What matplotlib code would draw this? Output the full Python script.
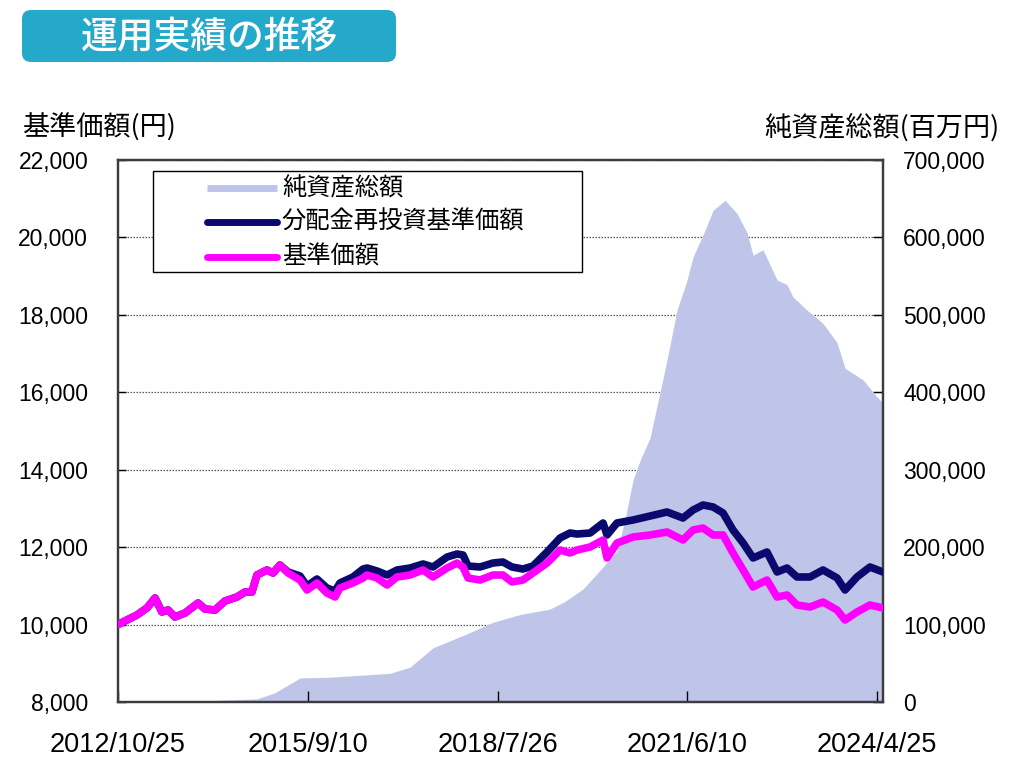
import matplotlib
matplotlib.use("Agg")
import matplotlib.pyplot as plt
import matplotlib.patches as mpatches
import matplotlib.transforms as mtrans
from matplotlib.lines import Line2D
import pandas as pd

plt.rcParams['font.family'] = ['Liberation Sans', 'Noto Sans CJK JP', 'DejaVu Sans']
JP = ['Noto Sans CJK JP', 'DejaVu Sans']

# 基準価額 / 分配金再投資基準価額 (円)
line_dates = ["2012-10-25", "2012-12-02", "2013-02-07", "2013-04-03", "2013-05-18",
              "2013-06-25", "2013-07-29", "2013-09-05", "2013-10-31", "2014-01-11",
              "2014-02-18", "2014-04-15", "2014-06-09", "2014-08-14", "2014-09-28",
              "2014-11-05", "2014-12-03", "2015-01-27", "2015-03-02", "2015-04-09",
              "2015-05-24", "2015-07-29", "2015-09-06", "2015-10-31", "2015-12-25",
              "2016-02-08", "2016-03-06", "2016-05-17", "2016-07-12", "2016-08-03",
              "2016-09-27", "2016-11-22", "2017-01-16", "2017-03-29", "2017-06-09",
              "2017-08-03", "2017-10-20", "2017-12-14", "2018-01-16", "2018-02-13",
              "2018-04-20", "2018-07-01", "2018-08-25", "2018-10-14", "2018-12-14",
              "2019-02-07", "2019-04-26", "2019-07-07", "2019-08-31", "2019-10-09",
              "2019-12-20", "2020-03-01", "2020-03-23", "2020-05-17", "2020-08-14",
              "2020-11-16", "2021-02-18", "2021-05-17", "2021-07-12", "2021-09-05",
              "2021-10-31", "2021-12-25", "2022-02-18", "2022-04-15", "2022-06-09",
              "2022-08-25", "2022-10-20", "2022-12-14", "2023-02-07", "2023-04-20",
              "2023-07-01", "2023-09-17", "2023-10-31", "2024-01-05", "2024-03-17",
              "2024-05-28"]
base_price = [10000, 10092, 10247, 10428, 10686, 10325, 10376, 10196, 10299, 10557,
              10402, 10376, 10609, 10712, 10841, 10841, 11280, 11410, 11332, 11539,
              11332, 11151, 10893, 11074, 10815, 10712, 10945, 11074, 11203, 11280,
              11203, 11022, 11229, 11280, 11410, 11229, 11461, 11590, 11487, 11203,
              11151, 11280, 11280, 11100, 11151, 11332, 11590, 11926, 11850, 11926,
              12004, 12184, 11720, 12107, 12262, 12314, 12391, 12184, 12443, 12494,
              12314, 12314, 11849, 11410, 10970, 11151, 10712, 10764, 10506, 10454,
              10583, 10376, 10118, 10325, 10506, 10428]
reinvest_price = [10000, 10092, 10247, 10428, 10686, 10325, 10376, 10196, 10299, 10557,
                  10402, 10376, 10609, 10712, 10841, 10841, 11280, 11410, 11332, 11539,
                  11358, 11255, 10996, 11177, 10945, 10867, 11074, 11229, 11435, 11461,
                  11384, 11280, 11410, 11461, 11565, 11487, 11745, 11823, 11797, 11513,
                  11487, 11590, 11616, 11487, 11435, 11513, 11875, 12236, 12365, 12339,
                  12365, 12624, 12314, 12624, 12701, 12804, 12908, 12753, 12959, 13089,
                  13037, 12882, 12443, 12107, 11720, 11875, 11358, 11461, 11229, 11229,
                  11410, 11203, 10893, 11229, 11487, 11358]

# 純資産総額 (百万円)
asset_dates = ["2012-10-25", "2013-11-27", "2014-04-15", "2014-12-03", "2015-03-13",
               "2015-07-29", "2016-01-11", "2016-12-08", "2017-03-29", "2017-08-03",
               "2018-02-07", "2018-07-01", "2018-11-28", "2019-05-12", "2019-08-04",
               "2019-11-11", "2020-02-13", "2020-05-17", "2020-06-30", "2020-08-14",
               "2020-09-27", "2020-11-16", "2021-02-18", "2021-04-14", "2021-06-09",
               "2021-07-12", "2021-09-05", "2021-10-31", "2022-01-05", "2022-03-12",
               "2022-05-07", "2022-06-09", "2022-08-03", "2022-10-20", "2022-12-14",
               "2023-01-16", "2023-04-04", "2023-07-01", "2023-09-17", "2023-10-31",
               "2024-02-08", "2024-04-25", "2024-05-28"]
net_assets = [0, 500, 2000, 4000, 12000, 31000, 32000, 37000, 45000, 70000,
              88000, 103000, 113000, 120000, 130000, 146000, 170000, 195000, 235000, 287000,
              315000, 341000, 442000, 506000, 545000, 575000, 603000, 635000, 648000, 631000,
              606000, 577000, 584000, 545000, 539000, 523000, 506000, 489000, 464000, 431000,
              416000, 394000, 386000]

tick_dates = ["2012-10-25", "2015-09-10", "2018-07-26", "2021-06-10", "2024-04-25"]
tick_labels = ["2012/10/25", "2015/9/10", "2018/7/26", "2021/6/10", "2024/4/25"]

line_dates = pd.to_datetime(line_dates)
asset_dates = pd.to_datetime(asset_dates)
tick_dates = pd.to_datetime(tick_dates)

fill_color = '#BEC5E8'
navy = '#0A0A6E'
magenta = '#FF00FF'
spine_color = '#3C3C3C'

fig = plt.figure(figsize=(10.24, 7.58), dpi=100)
ax = fig.add_axes([118 / 1024, 1 - 702 / 758, 765 / 1024, 542 / 758])
ax2 = ax.twinx()

# net assets on the right axis, behind the price lines
ax2.fill_between(asset_dates, net_assets, 0, color=fill_color, lw=0, zorder=2)
ax2.set_ylim(0, 700000)
ax2.set_yticks(range(0, 700001, 100000))
ax2.set_yticklabels([f"{v:,}" for v in range(0, 700001, 100000)])
ax2.yaxis.grid(True, linestyle=(0, (1.2, 1.2)), color='#555555', lw=0.9)
ax2.set_axisbelow(True)
ax2.tick_params(axis='y', direction='in', length=7, width=1, pad=14.5,
                labelsize=16.5, colors='black')

ax.set_zorder(ax2.get_zorder() + 1)
ax.patch.set_visible(False)
ax.plot(line_dates, reinvest_price, color=navy, lw=5.5, solid_joinstyle='round',
        solid_capstyle='round', zorder=3)
ax.plot(line_dates, base_price, color=magenta, lw=5.5, solid_joinstyle='round',
        solid_capstyle='round', zorder=4)

ax.set_ylim(8000, 22000)
ax.set_yticks(range(8000, 22001, 2000))
ax.set_yticklabels([f"{v:,}" for v in range(8000, 22001, 2000)])
ax.set_xlim(pd.Timestamp("2012-10-25"), pd.Timestamp("2024-05-28"))
ax.set_xticks(tick_dates)
ax.set_xticklabels(tick_labels)
ax.tick_params(axis='y', direction='in', length=6, width=1, pad=21.5, labelsize=16.5)
ax.tick_params(axis='x', direction='in', length=8, width=1, pad=21.5, labelsize=19.5)

for a in (ax, ax2):
    for s in a.spines.values():
        s.set_color(spine_color)
        s.set_linewidth(1.6)

# legend box
ax.add_patch(mpatches.Rectangle((0.0458, 0.7934), 0.5607, 0.1863, transform=ax.transAxes,
                                facecolor='white', edgecolor='black', lw=1, zorder=10))
legend_rows = [("純資産総額", fill_color, 'butt', 0.9483),
               ("分配金再投資基準価額", navy, 'round', 0.8856),
               ("基準価額", magenta, 'round', 0.8210)]
for label, col, cap, yy in legend_rows:
    ax.add_line(Line2D([0.1163, 0.2078], [yy, yy], transform=ax.transAxes, color=col,
                       lw=5, solid_capstyle=cap, zorder=11))
    ax.text(0.2143, yy, label, transform=ax.transAxes, ha='left', va='center',
            fontsize=17.5, family=JP, zorder=11)

# axis titles
fig.text(22 / 1024, 1 - 128 / 758, "基準価額(円)", ha='left', va='center',
         fontsize=19.5, family=JP)
fig.text(1000 / 1024, 1 - 128 / 758, "純資産総額(百万円)", ha='right', va='center',
         fontsize=19.5, family=JP)

# title banner
fig.add_artist(mpatches.FancyBboxPatch((22, 758 - 62), 374, 52,
                                       boxstyle='round,pad=0,rounding_size=9',
                                       transform=mtrans.IdentityTransform(),
                                       facecolor='#25A9CB', edgecolor='none'))
fig.text(209 / 1024, 1 - 37 / 758, "運用実績の推移", ha='center', va='center',
         color='white', fontsize=26.5, fontweight='medium', family=JP)

fig.savefig("out.png", dpi=100)
